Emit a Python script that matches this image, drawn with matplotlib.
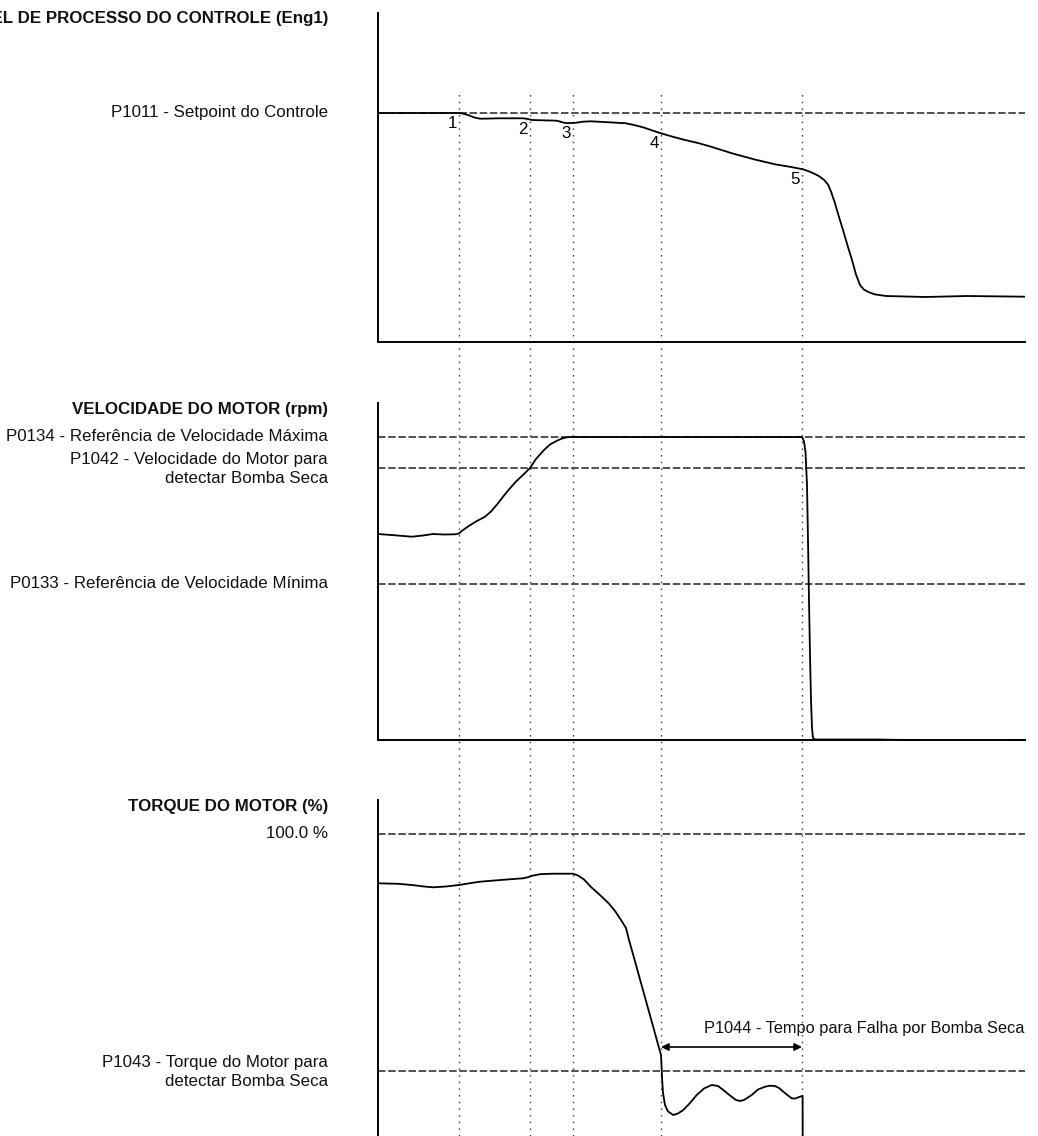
import numpy as np
import matplotlib.pyplot as plt

plt.rcParams['font.family'] = ['Liberation Sans', 'DejaVu Sans']

# time axis (arbitrary units along the trace) and events 1..5
event_t = [81, 152, 195, 283, 424]
event_lbl = ["1", "2", "3", "4", "5"]

# process variable (Eng1)
pv_t = [0, 81, 85, 90, 96, 102, 110, 120, 145, 150, 154, 179, 184, 188, 196, 205, 213,
        231, 248, 256, 265, 283, 295, 307, 320, 333, 354, 376, 397, 412, 425, 432, 440,
        446, 450, 453, 457, 461, 465, 470, 474, 478, 482, 486, 491, 497, 508, 547, 589, 647]
pv_v = [229, 229, 228.4, 227, 224.6, 223.3, 223.4, 223.7, 223.7, 223, 222, 221.3, 219.8,
        218.9, 219, 220.3, 220.7, 219.7, 218.7, 217, 214.7, 208.7, 205.2, 202, 199, 195.3,
        188.7, 182.7, 177.7, 175.2, 172.7, 170.2, 166.5, 162.2, 157.5, 150.5, 138.7, 125,
        112, 95, 82, 67.5, 57, 52.3, 49.7, 47.6, 46, 45, 46, 45.3]
pv_setpoint = 229

# motor speed (rpm)
spd_t = [0, 17, 34, 45, 55, 66, 77, 81, 84, 90, 98, 107, 113, 120, 126, 132, 138, 145, 152,
         158, 166, 172, 179, 184, 190, 300, 423, 424.5, 426, 427.5, 429, 430, 431, 432, 433,
         434, 435, 437, 500, 560, 600, 647]
spd_v = [206, 204.7, 203.3, 204.5, 206, 205.5, 205.7, 206.5, 209.2, 213.5, 218.5, 223.3,
         228.5, 236.7, 244.5, 251.7, 258.5, 265, 272, 281, 290, 295.5, 299.3, 301.5, 303,
         303, 303, 302.3, 298.5, 288, 255, 200, 140, 85, 40, 12, 2, 0.5, 0.5, -0.5, -0.5, 0]
spd_max = 303
spd_dry = 272
spd_min = 156

# motor torque (%)
trq_t = [0, 20, 34, 45, 55, 68, 81, 92, 102, 125, 145, 150, 154, 162, 175, 195, 200, 206,
         213, 222, 231, 237, 243, 248, 251, 254, 259, 265, 273, 278, 283, 283.5, 284,
         285, 287, 290, 295.3, 300, 305.3, 312, 318.7, 326, 333.7, 340, 345.3, 352, 358,
         362, 366, 373.7, 380, 387, 392, 397, 401, 405.3, 410, 413.7, 417, 420.3, 422.5,
         424.6, 424.7]
trq_v = [253.7, 253.2, 252, 250.6, 249.7, 250.5, 252, 253.8, 255.3, 257.2, 258.7, 259.8,
         261.2, 262.8, 263.3, 263.3, 261.5, 257.5, 250, 242, 233.3, 226, 217, 209,
         197, 186.4, 168.4, 146.8, 118, 100, 82, 72, 60, 44, 32, 25.5, 22, 23.5, 27, 34, 42,
         48.5, 52, 51, 47, 41.5, 37, 36, 37, 42, 47.5, 50.3, 51.3, 51, 49, 45.3, 41.5,
         38.7, 38.4, 39.7, 40.5, 41, 0]
trq_100 = 303
trq_dry = 66

W, H = 1038, 1136
fig = plt.figure(figsize=(W / 100, H / 100), dpi=100)

x0, x1 = 378, 1025


def add_panel(top, bottom):
    ax = fig.add_axes([x0 / W, (H - bottom) / H, (x1 - x0) / W, (bottom - top) / H])
    ax.set_xlim(0, x1 - x0)
    ax.set_ylim(0, bottom - top)
    ax.patch.set_visible(False)
    for s in ["top", "right"]:
        ax.spines[s].set_visible(False)
    for s in ["left", "bottom"]:
        ax.spines[s].set_linewidth(1.4)
    ax.set_xticks([])
    ax.set_yticks([])
    return ax


# dotted event markers across all panels
ov = fig.add_axes([x0 / W, 0, (x1 - x0) / W, (H - 94) / H])
ov.set_xlim(0, x1 - x0)
ov.set_ylim(0, 1)
ov.axis("off")
ov.vlines(event_t, 0, 1, colors="#333333", linestyles=(0, (1, 3.8)), lw=1.0)

ax1 = add_panel(13, 342)
ax2 = add_panel(403, 740)
ax3 = add_panel(800, 1137)
ax3.spines["bottom"].set_visible(False)

fs = 12.2
dash = dict(color="#333333", lw=1.2, linestyle=(0, (4.5, 1.6)))
curve = dict(color="black", lw=1.3, solid_joinstyle="round")
lab = dict(fontsize=fs, ha="right", va="center", color="#111111")
ttl = dict(fontsize=fs, ha="right", va="center", fontweight="bold", color="#111111")
lx = 328

# panel 1
ax1.axhline(pv_setpoint, **dash)
ax1.plot(pv_t, pv_v, **curve)
for t, s in zip(event_t, event_lbl):
    ax1.annotate(s, (t, np.interp(t, pv_t, pv_v)), xytext=(-2, -10),
                 textcoords="offset pixels", ha="right", va="center", fontsize=fs)
ax1.annotate("VARIÁVEL DE PROCESSO DO CONTROLE (Eng1)", (lx, 325),
             xycoords=("figure pixels", "data"), annotation_clip=False, **ttl)
ax1.annotate("P1011 - Setpoint do Controle", (lx, pv_setpoint),
             xycoords=("figure pixels", "data"), annotation_clip=False, **lab)

# panel 2
for v in [spd_max, spd_dry, spd_min]:
    ax2.axhline(v, **dash)
ax2.plot(spd_t, spd_v, **curve)
ax2.annotate("VELOCIDADE DO MOTOR (rpm)", (lx, 330),
             xycoords=("figure pixels", "data"), annotation_clip=False, **ttl)
ax2.annotate("P0134 - Referência de Velocidade Máxima", (lx, spd_max),
             xycoords=("figure pixels", "data"), annotation_clip=False, **lab)
ax2.annotate("P1042 - Velocidade do Motor para\ndetectar Bomba Seca", (lx, spd_dry - 1),
             xycoords=("figure pixels", "data"), annotation_clip=False,
             linespacing=1.4, multialignment="right", **lab)
ax2.annotate("P0133 - Referência de Velocidade Mínima", (lx, spd_min),
             xycoords=("figure pixels", "data"), annotation_clip=False, **lab)

# panel 3
for v in [trq_100, trq_dry]:
    ax3.axhline(v, **dash)
ax3.plot(trq_t, trq_v, **curve)
ax3.annotate("TORQUE DO MOTOR (%)", (lx, 331),
             xycoords=("figure pixels", "data"), annotation_clip=False, **ttl)
ax3.annotate("100.0 %", (lx, trq_100),
             xycoords=("figure pixels", "data"), annotation_clip=False, **lab)
ax3.annotate("P1043 - Torque do Motor para\ndetectar Bomba Seca", (lx, trq_dry - 1),
             xycoords=("figure pixels", "data"), annotation_clip=False,
             linespacing=1.4, multialignment="right", **lab)
ax3.annotate("", xy=(event_t[3], 90), xytext=(event_t[4], 90),
             arrowprops=dict(arrowstyle="<|-|>", color="black", lw=1.2,
                             mutation_scale=11, shrinkA=0, shrinkB=0))
ax3.text(326, 109, "P1044 - Tempo para Falha por Bomba Seca", fontsize=11.8,
         ha="left", va="center", color="#111111")

fig.savefig("out.png", dpi=100, facecolor="white")
